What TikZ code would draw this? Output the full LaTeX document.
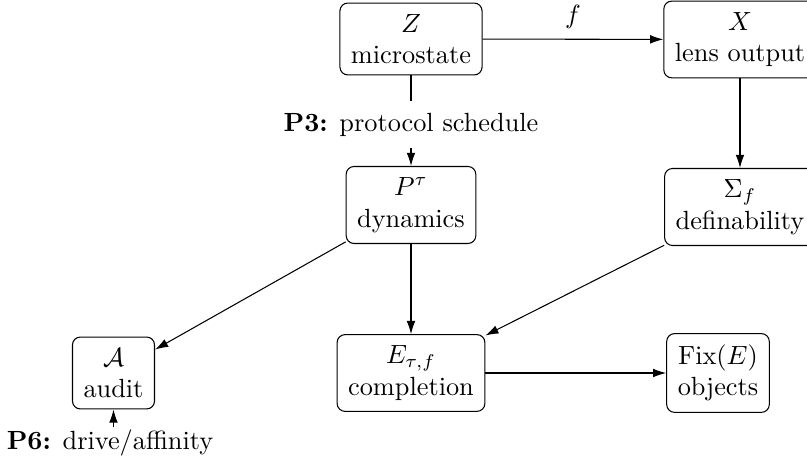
\documentclass[tikz,border=0pt]{standalone}
\usetikzlibrary{arrows.meta}
\begin{document}
\begin{tikzpicture}[x=0.3802pt,y=-0.3802pt,
  box/.style={draw,rounded corners=3pt,align=center,inner sep=4.2pt,line width=0.4pt},
  lbl/.style={inner sep=4.3pt,align=center},
  arr/.style={-{Latex[length=5pt,width=3.3pt]},line width=0.4pt}]
\clip (0,0) rectangle (807,465);
\node[box] (Z) at (411,39) {$Z$\\microstate};
\node[box] (X) at (740,39.5) {$X$\\lens output};
\node[box] (P) at (411,205) {$P^{\tau}$\\dynamics};
\node[box] (S) at (740,207) {$\Sigma_f$\\definability};
\node[box] (A) at (113.5,373) {$\mathcal{A}$\\audit};
\node[box] (E) at (411,373) {$E_{\tau,f}$\\completion};
\node[box] (F) at (718,373) {$\mathrm{Fix}(E)$\\objects};
\node[lbl] (P3) at (411,124.5) {\textbf{P3:} protocol schedule};
\node[inner sep=1pt,anchor=base] (P6) at (110,450) {\textbf{P6:} drive/affinity};
\draw[arr] (Z) -- node[above,inner sep=3.8pt] (fl) {$f$} (X);
\draw[line width=0.4pt] (Z) -- (P3);
\draw[arr] (P3) -- (P);
\draw[arr] (X) -- (S);
\draw[arr] (P) -- (A);
\draw[arr] (P) -- (E);
\draw[arr] (S) -- (E);
\draw[arr] (E) -- (F);
\draw[arr] (P6.north -| A.south) -- (A);
\end{tikzpicture}
\end{document}
